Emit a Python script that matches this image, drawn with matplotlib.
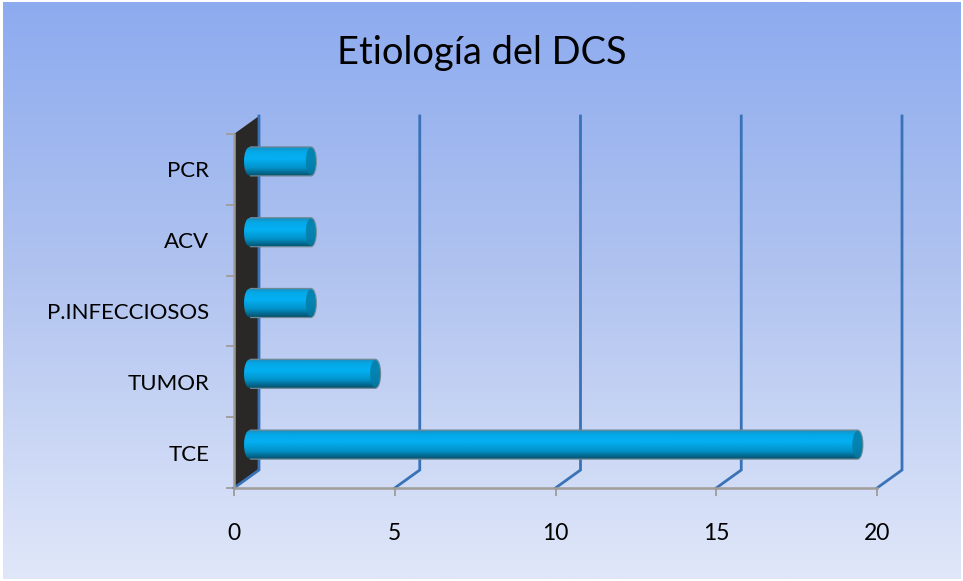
import numpy as np
import matplotlib
matplotlib.use("Agg")
import matplotlib.pyplot as plt
from matplotlib.path import Path
from matplotlib.patches import PathPatch, Polygon, Ellipse
from matplotlib.colors import LinearSegmentedColormap

categorias = ["TCE", "TUMOR", "P.INFECCIOSOS", "ACV", "PCR"]
valores = [19, 4, 2, 2, 2]
ticks_x = [0, 5, 10, 15, 20]

plt.rcParams["font.family"] = ["Lato", "DejaVu Sans"]

W, H = 963, 581
fig = plt.figure(figsize=(W / 100, H / 100), dpi=100, facecolor="white")

# fondo degradado
fondo = fig.add_axes([0, 0, 1, 1])
fondo.set_axis_off()
grad = np.linspace(0, 1, 256).reshape(-1, 1)
cmap_fondo = LinearSegmentedColormap.from_list("fondo", ["#8dabef", "#b3c5f0", "#e0e7f9"])
fondo.imshow(grad, aspect="auto", cmap=cmap_fondo, extent=[0.003, 0.997, 0.004, 0.996], transform=fondo.transAxes)
fondo.set_xlim(0, 1)
fondo.set_ylim(0, 1)

ax = fig.add_axes([234 / W, (H - 488) / H, 643 / W, 354 / H])
ax.set_xlim(0, 20)
ax.set_ylim(-0.5, 4.5)
ax.patch.set_alpha(0)

ux = 643 / 20  # px por unidad
uy = 354 / 5
dx = 25 / ux   # profundidad 3D
dy = 18 / uy

# pared del fondo
pared = Polygon([(0, -0.5), (dx, -0.5 + dy), (dx, 4.5 + dy), (0, 4.5)],
                closed=True, facecolor="#2a2826", edgecolor="none", clip_on=False, zorder=1)
ax.add_patch(pared)

# lineas de la cuadricula
for t in ticks_x:
    ax.plot([t, t + dx, t + dx], [-0.5, -0.5 + dy, 4.5 + dy], color="#3a72b8",
            lw=2, clip_on=False, zorder=2, solid_joinstyle="miter")

# barras cilindricas
cmap_barra = LinearSegmentedColormap.from_list(
    "barra", [(0, "#1a8fc0"), (0.15, "#04a8e8"), (0.4, "#04b0f2"), (0.72, "#0292ca"), (1, "#04506c")])
alto = 29 / uy
x0 = 10 / ux
px = 1 / ux
gr = np.linspace(0, 1, 64).reshape(-1, 1)
for i, v in enumerate(valores):
    yc = i + 8 / uy
    y1, y2 = yc - alto / 2, yc + alto / 2
    xf = x0 + v
    verts = [(x0 + 6 * px, y1), (xf + 2.5 * px, y1),
             (xf + 9.8 * px, y1), (xf + 9.8 * px, y2), (xf + 2.5 * px, y2),
             (x0 + 6 * px, y2), (x0 - 2 * px, y2), (x0 - 2 * px, y1), (x0 + 6 * px, y1)]
    codes = [Path.MOVETO, Path.LINETO, Path.CURVE4, Path.CURVE4, Path.CURVE4,
             Path.LINETO, Path.CURVE4, Path.CURVE4, Path.CURVE4]
    cuerpo = PathPatch(Path(verts, codes), facecolor="none", edgecolor="none", clip_on=False, zorder=4)
    ax.add_patch(cuerpo)
    im = ax.imshow(gr, aspect="auto", cmap=cmap_barra, extent=[x0 - 2 * px, xf + 10 * px, y1, y2],
                   zorder=3, clip_on=True)
    im.set_clip_path(cuerpo)
    # borde solo arriba, abajo y en la punta
    borde = PathPatch(Path(verts[:6], codes[:6]), facecolor="none", edgecolor="#6f8a96", lw=0.9,
                      clip_on=False, zorder=4)
    ax.add_patch(borde)
    tapa = Ellipse((xf + 2.5 * px, yc), 10 * px, alto * 0.94, facecolor="#057aa3",
                   edgecolor="none", alpha=0.8, clip_on=False, zorder=5)
    ax.add_patch(tapa)

ax.set_xlim(0, 20)
ax.set_ylim(-0.5, 4.5)

# ejes
for lado in ["top", "right"]:
    ax.spines[lado].set_visible(False)
for lado in ["left", "bottom"]:
    ax.spines[lado].set_color("#a09c98")
    ax.spines[lado].set_linewidth(1.8)
    ax.spines[lado].set_zorder(6)

ax.set_xticks(ticks_x)
ax.set_xticklabels([str(t) for t in ticks_x])
ax.set_yticks(np.arange(-0.5, 5, 1))
ax.set_yticklabels([])
ax.set_yticks(np.arange(0, 5), labels=categorias, minor=True)
ax.tick_params(axis="y", which="major", length=6, width=1.3, color="#a09c98")
ax.tick_params(axis="y", which="minor", length=0, pad=18, labelsize=16)
ax.tick_params(axis="x", length=6, width=1.3, color="#a09c98", pad=19, labelsize=16.5)

fig.text(482 / W, 1 - 53 / H, "Etiología del DCS", ha="center", va="center", fontsize=27.4, color="black")

fig.savefig("out.png", dpi=100)
